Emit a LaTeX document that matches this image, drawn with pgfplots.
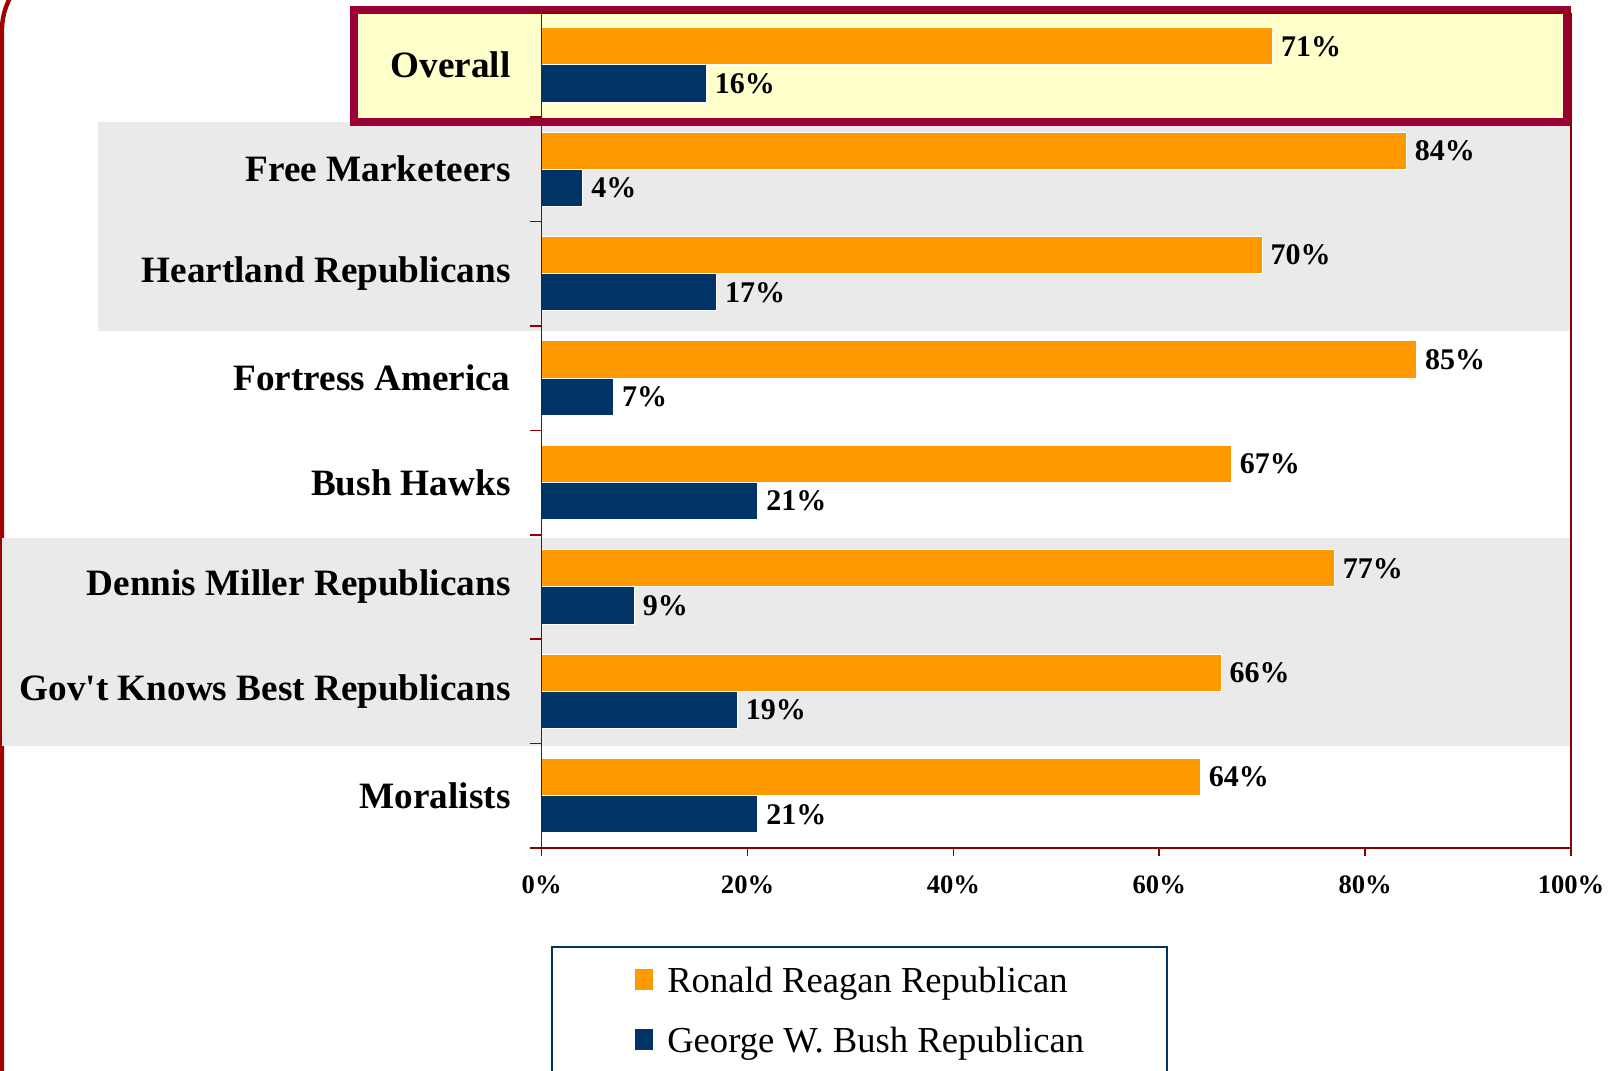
\documentclass[border=0pt]{standalone}
\usepackage{fontspec}
\setmainfont{Liberation Serif}[Ligatures=TeXOff]
\usepackage{pgfplots}
\pgfplotsset{compat=1.18}

\definecolor{orng}{HTML}{FF9900}
\definecolor{navy}{HTML}{003366}
\definecolor{axisred}{HTML}{8C0000}
\definecolor{boxred}{HTML}{990033}
\definecolor{hili}{HTML}{FFFFCC}
\definecolor{band}{HTML}{EAEAEA}
\definecolor{framered}{HTML}{A00000}

\begin{document}
\begin{tikzpicture}
% slide frame on the left
\draw[framered, line width=2.2pt] (1pt,-5pt) -- (1pt,520.5pt) arc[start angle=180, end angle=100, radius=34pt];

\begin{axis}[
    at={(270.85pt,111.5pt)}, anchor=south west,
    scale only axis, width=514.65pt, height=417.7pt,
    xmin=0, xmax=100, ymin=-0.5, ymax=7.5, y dir=reverse,
    clip=false, axis on top,
    separate axis lines,
    x axis line style={axisred, line width=1.2pt},
    y axis line style={axisred, line width=0.8pt},
    tick pos=left, tick align=outside,
    major tick length=4pt, minor tick length=6pt,
    tick style={axisred, line width=0.8pt},
    xtick={0,20,...,100},
    xticklabel={\pgfmathprintnumber{\tick}\%},
    xticklabel style={font=\bfseries\fontsize{13.3}{16}\selectfont, inner sep=0pt, anchor=north, yshift=-9.75pt},
    ytick={0,...,7},
    yticklabels={Overall, Free Marketeers, Heartland Republicans, Fortress America, Bush Hawks, Dennis Miller Republicans, Gov't Knows Best Republicans, Moralists},
    major y tick style={draw=none},
    minor ytick={-0.5,0.5,...,7.5},
    yticklabel style={font=\bfseries\fontsize{18.6}{22}\selectfont, inner sep=0pt, anchor=east, xshift=-11.35pt},
    /pgf/number format/assume math mode=true,
    point meta=x,
    nodes near coords={\pgfmathprintnumber{\pgfplotspointmeta}\%},
    nodes near coords style={font=\bfseries\fontsize{15}{18}\selectfont, anchor=west, inner sep=0pt, xshift=4pt, black},
    legend style={
        at={(0.00904,-0.1173)}, anchor=north west,
        draw=navy, line width=1pt,
        inner xsep=41.3pt, inner ysep=9.85pt,
        font=\fontsize{18.3}{22}\selectfont,
        row sep=13pt, column sep=7.35pt,
        nodes={inner sep=0pt, text height=13pt, text depth=4pt},
        cells={anchor=west},
    },
]

% grey bands and the yellow fill behind the bars
\fill[band] (axis cs:-43.1,0.545) rectangle (axis cs:100,2.545);
\fill[band] (axis cs:-52.43,4.532) rectangle (axis cs:100,6.523);
\fill[hili] (axis cs:-18.24,-0.525) rectangle (axis cs:99.6,0.5476);

% Ronald Reagan Republican
\addplot[xbar, bar width=0.356, bar shift=-0.178, fill=orng, draw=white, line width=0.5pt,
    nodes near coords style={yshift=9.3pt},
    legend image code/.code={\fill[orng] (0pt,-3.15pt) rectangle (8.5pt,6.85pt);}]
    coordinates {(71,0) (84,1) (70,2) (85,3) (67,4) (77,5) (66,6) (64,7)};
\addlegendentry{Ronald Reagan Republican}

% George W. Bush Republican
\addplot[xbar, bar width=0.356, bar shift=0.178, fill=navy, draw=white, line width=0.5pt,
    nodes near coords style={yshift=-9.3pt},
    legend image code/.code={\fill[navy] (0pt,-3.15pt) rectangle (8.5pt,6.85pt);}]
    coordinates {(16,0) (4,1) (17,2) (7,3) (21,4) (9,5) (19,6) (21,7)};
\addlegendentry{George W. Bush Republican}

% highlight box round Overall
\draw[boxred, line width=4pt] (axis cs:-18.24,-0.525) rectangle (axis cs:99.6,0.5476);
\end{axis}
\pgfresetboundingbox
\path[use as bounding box] (0,0) rectangle (809.5pt,535.5pt);
\end{tikzpicture}
\end{document}
